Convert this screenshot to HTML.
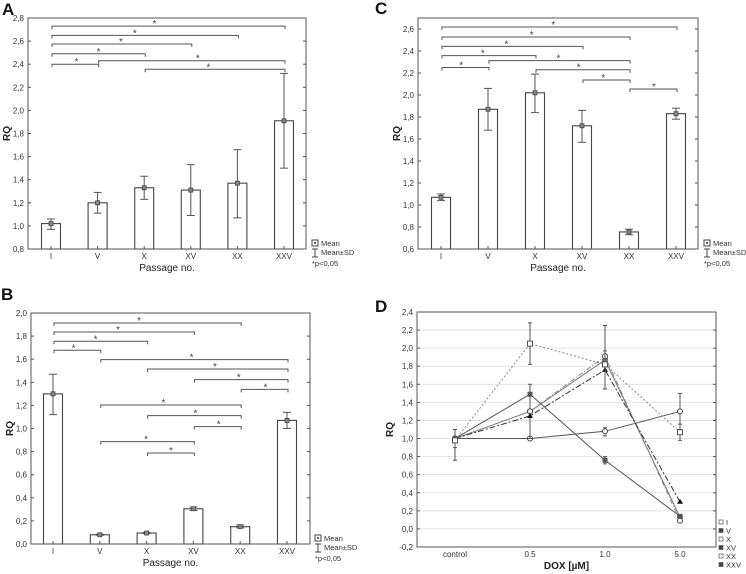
<!DOCTYPE html>
<html><head><meta charset="utf-8"><style>
html,body{margin:0;padding:0;background:#fff;}
svg{display:block;font-family:"Liberation Sans",sans-serif;}
</style></head><body>
<svg id="fig" width="746" height="574" viewBox="0 0 746 574"></svg>
<script>
const cats = ["I","V","X","XV","XX","XXV"];
const aMean = [1.02,1.20,1.33,1.31,1.37,1.91];
const aLo = [0.97,1.11,1.23,1.09,1.07,1.50];
const aHi = [1.06,1.29,1.43,1.53,1.66,2.32];
const aBrFrom = [0,0,0,0,0,1,2];
const aBrTo = [5,4,3,2,1,5,5];
const aBrY = [2.73,2.65,2.575,2.49,2.40,2.43,2.356];
const aStar = [2.22,1.80,1.50,1.02,0.55,3.15,3.38];
const aTicks = ["0,8","1,0","1,2","1,4","1,6","1,8","2,0","2,2","2,4","2,6","2,8"];

const bMean = [1.30,0.08,0.095,0.305,0.15,1.07];
const bLo = [1.12,0.075,0.09,0.29,0.14,1.00];
const bHi = [1.47,0.085,0.10,0.32,0.165,1.14];
const bBrFrom = [0,0,0,0,1,2,3,4,1,2,3,1,2];
const bBrTo = [4,3,2,1,5,5,5,5,4,4,4,3,3];
const bBrY = [1.913,1.835,1.755,1.677,1.596,1.515,1.423,1.339,1.203,1.111,1.016,0.886,0.788];
const bStar = [1.84,1.39,0.91,0.44,2.96,3.46,3.97,4.54,2.36,3.04,3.54,1.99,2.52];
const bTicks = ["0,0","0,2","0,4","0,6","0,8","1,0","1,2","1,4","1,6","1,8","2,0"];

const cMean = [1.07,1.87,2.02,1.72,0.755,1.83];
const cLo = [1.04,1.68,1.84,1.57,0.73,1.78];
const cHi = [1.10,2.06,2.19,1.86,0.78,1.88];
const cBrFrom = [0,0,0,0,0,1,2,3,4];
const cBrTo = [5,4,3,2,1,4,4,4,5];
const cBrY = [2.618,2.527,2.442,2.358,2.25,2.312,2.23,2.136,2.055];
const cStar = [2.39,1.93,1.39,0.89,0.43,2.5,2.93,3.45,4.53];
const cTicks = ["0,6","0,8","1,0","1,2","1,4","1,6","1,8","2,0","2,2","2,4","2,6"];

const dCats = ["control","0.5","1.0","5.0"];
const dNames = ["I","V","X","XV","XX","XXV"];
const dI = [1.00,1.00,1.08,1.30];
const dV = [1.00,1.30,1.87,0.13];
const dX = [1.00,1.30,1.91,0.09];
const dXV = [1.00,1.25,1.76,0.30];
const dXX = [1.00,1.49,0.76,0.14];
const dXXV = [0.98,2.05,1.82,1.07];
const dErrLo = [[0.76,0.9,1.03,1.10],[0.9,1.0,1.55,0.1],[0.9,1.0,1.6,0.07],[0.9,1.0,1.55,0.28],[0.9,1.1,0.72,0.12],[0.76,1.82,1.55,0.98]];
const dErrHi = [[1.10,1.1,1.12,1.50],[1.1,1.6,2.25,0.16],[1.1,1.6,2.25,0.12],[1.1,1.5,1.97,0.32],[1.1,1.6,0.8,0.16],[1.10,2.28,2.25,1.16]];
const dErrShow = [[0,0,1,1],[0,1,0,0],[0,0,0,0],[1,0,1,0],[0,0,1,0],[1,1,1,1]];
const dTicks = ["-0,2","0,0","0,2","0,4","0,6","0,8","1,0","1,2","1,4","1,6","1,8","2,0","2,2","2,4"];

const NS="http://www.w3.org/2000/svg";
const svg=document.getElementById('fig');
function el(tag,attrs,parent,text){const e=document.createElementNS(NS,tag);for(const k in attrs)e.setAttribute(k,attrs[k]);if(text!==undefined)e.textContent=text;(parent||svg).appendChild(e);return e;}
const ST="#555";

function barPanel(name,letter,box,x0,dx,yMin,yMax,tickStart,ticks,mean,lo,hi,brF,brT,brY,star,lx,ly){
  const g=el('g',{});
  
  
  const [L,R,T,B]=box;
  const y=v=>B-(v-yMin)/(yMax-yMin)*(B-T);
  const x=i=>x0+dx*i;
  const lt=el('text',{x:box[4],y:box[5],'font-size':17,'font-weight':'bold',fill:'#111'},g,letter);
  
  ticks.forEach((t,i)=>{const v=tickStart+0.2*i;const yy=y(v);
    el('line',{x1:L,x2:L+3,y1:yy,y2:yy,stroke:ST},g);el('line',{x1:R,x2:R-3,y1:yy,y2:yy,stroke:ST},g);
    const tx=el('text',{x:L-4,y:yy+3,'font-size':8,'text-anchor':'end',fill:'#333'},g,t);
    });
  const yl=el('text',{x:0,y:0,'font-size':10,'font-weight':'bold',transform:`translate(${L-18},${(T+B)/2}) rotate(-90)`,'text-anchor':'middle',fill:'#222'},g,'RQ');
  
  const xt=el('text',{x:(L+R)/2,y:B+22,'font-size':10,'text-anchor':'middle',fill:'#222'},g,'Passage no.');
  
  cats.forEach((c,i)=>{const cx=x(i);
    const bar=el('rect',{x:cx-9.5,y:y(mean[i]),width:19,height:B-y(mean[i]),fill:'#fff',stroke:'#444','stroke-width':1.1},g);
    
    el('line',{x1:cx,x2:cx,y1:y(lo[i]),y2:y(hi[i]),stroke:ST},g);
    el('line',{x1:cx-4,x2:cx+4,y1:y(lo[i]),y2:y(lo[i]),stroke:ST},g);
    el('line',{x1:cx-4,x2:cx+4,y1:y(hi[i]),y2:y(hi[i]),stroke:ST},g);
    el('rect',{x:cx-2,y:y(mean[i])-2,width:4,height:4,fill:'#888',stroke:'#444','stroke-width':0.8},g);
    el('line',{x1:cx,x2:cx,y1:B,y2:B-3,stroke:ST},g);
    const tl=el('text',{x:cx,y:B+10,'font-size':8,'text-anchor':'middle',fill:'#333'},g,c);
    });
  brF.forEach((f,k)=>{const yy=y(brY[k]);const x1=x(f)+1,x2=x(brT[k])+1;
    const p=el('path',{d:`M${x1},${yy+3}V${yy}H${x2}V${yy+3}`,fill:'none',stroke:ST,'stroke-width':1},g);
    
    const s=el('text',{x:x(star[k]),y:yy+1,'font-size':10,'text-anchor':'middle',fill:'#444'},g,'*');
    });
  el('rect',{x:L,y:T,width:R-L,height:B-T,fill:'none',stroke:ST,'stroke-width':1},g);
  const lg=el('g',{},g);
  el('rect',{x:lx,y:ly-6,width:6,height:6,fill:'#fff',stroke:'#444'},lg);
  el('rect',{x:lx+2,y:ly-4,width:2,height:2,fill:'#666'},lg);
  el('text',{x:lx+9,y:ly,'font-size':7.5,fill:'#333'},lg,'Mean');
  el('path',{d:`M${lx},${ly+3}h6M${lx+3},${ly+3}v8M${lx},${ly+11}h6`,stroke:'#444',fill:'none'},lg);
  el('text',{x:lx+9,y:ly+9,'font-size':7.5,fill:'#333'},lg,'Mean±SD');
  el('text',{x:lx,y:ly+20,'font-size':7.5,fill:'#333'},lg,'*p<0,05');
}
barPanel('panel-a','A',[28,306,18,249,2,15],51,46.6,0.8,2.8,0.8,aTicks,aMean,aLo,aHi,aBrFrom,aBrTo,aBrY,aStar,312,246);
barPanel('panel-b','B',[31,310,313,544,1,300],53,46.8,0,2.0,0,bTicks,bMean,bLo,bHi,bBrFrom,bBrTo,bBrY,bStar,315,541);
barPanel('panel-c','C',[418,698,18,249,375,14],441,47,0.6,2.7,0.6,cTicks,cMean,cLo,cHi,cBrFrom,cBrTo,cBrY,cStar,704,246);

// Panel D
(function(){
  const g=el('g',{});
  
  
  const L=417,R=716,T=312,B=547,yMin=-0.2,yMax=2.4;
  const y=v=>B-(v-yMin)/(yMax-yMin)*(B-T);
  const x=i=>455+75*i;
  const lt=el('text',{x:375,y:312,'font-size':17,'font-weight':'bold',fill:'#111'},g,'D');
  
  dTicks.forEach((t,i)=>{const v=-0.2+0.2*i;const yy=y(v);
    if(i>0&&i<dTicks.length-1)el('line',{x1:L,x2:R,y1:yy,y2:yy,stroke:'#ddd','stroke-width':0.8},g);
    el('line',{x1:L,x2:L+3,y1:yy,y2:yy,stroke:ST},g);el('line',{x1:R,x2:R-3,y1:yy,y2:yy,stroke:ST},g);
    const tx=el('text',{x:L-4,y:yy+3,'font-size':8,'text-anchor':'end',fill:'#333'},g,t);
    });
  const yl=el('text',{x:0,y:0,'font-size':10,'font-weight':'bold',transform:`translate(${L-24},${(T+B)/2}) rotate(-90)`,'text-anchor':'middle',fill:'#222'},g,'RQ');
  
  const xt=el('text',{x:(L+R)/2,y:B+22,'font-size':10,'font-weight':'bold','text-anchor':'middle',fill:'#222'},g,'DOX [µM]');
  
  dCats.forEach((c,i)=>{const tl=el('text',{x:x(i),y:B+10,'font-size':8,'text-anchor':'middle',fill:'#333'},g,c);
    });
  const series=[dI,dV,dX,dXV,dXX,dXXV];
  const dashes=['none','none','5,2,1,2','6,2,2,2','none','2,2'];
  const colors=['#555','#777','#888','#333','#555','#888'];
  const markers=['circle-open','circle-fill','circle-open','tri','square','square-open'];
  series.forEach((s,si)=>{
    const sg=el('g',{},g);
    s.forEach((v,i)=>{if(dErrShow[si][i]){const cx=x(i);
      el('path',{d:`M${cx-2},${y(dErrLo[si][i])}h4M${cx},${y(dErrLo[si][i])}V${y(dErrHi[si][i])}M${cx-2},${y(dErrHi[si][i])}h4`,stroke:'#555',fill:'none'},sg);}});
    el('polyline',{points:s.map((v,i)=>x(i)+','+y(v)).join(' '),fill:'none',stroke:colors[si],'stroke-width':1,'stroke-dasharray':dashes[si]},sg);
    s.forEach((v,i)=>{const cx=x(i),cy=y(v);const m=markers[si];
      if(m==='circle-open')el('circle',{cx,cy,r:2.5,fill:'#fff',stroke:'#444'},sg);
      else if(m==='circle-fill')el('circle',{cx,cy,r:2.5,fill:'#777',stroke:'#555'},sg);
      else if(m==='tri')el('path',{d:`M${cx},${cy-3}L${cx+3},${cy+2}L${cx-3},${cy+2}Z`,fill:'#111'},sg);
      else if(m==='square')el('rect',{x:cx-2.5,y:cy-2.5,width:5,height:5,fill:'#555'},sg);
      else el('rect',{x:cx-2.5,y:cy-2.5,width:5,height:5,fill:'#fff',stroke:'#555'},sg);});
  });
  el('rect',{x:L,y:T,width:R-L,height:B-T,fill:'none',stroke:ST},g);
  const lg=el('g',{},g);
  dNames.forEach((n,i)=>{const yy=525+8.5*i;
    el('rect',{x:719,y:yy-5,width:4,height:4,fill:i%2?'#444':'#fff',stroke:'#555','stroke-width':0.7},lg);
    el('text',{x:726,y:yy,'font-size':7.5,fill:'#333'},lg,n);});
})();
</script>
</body></html>
